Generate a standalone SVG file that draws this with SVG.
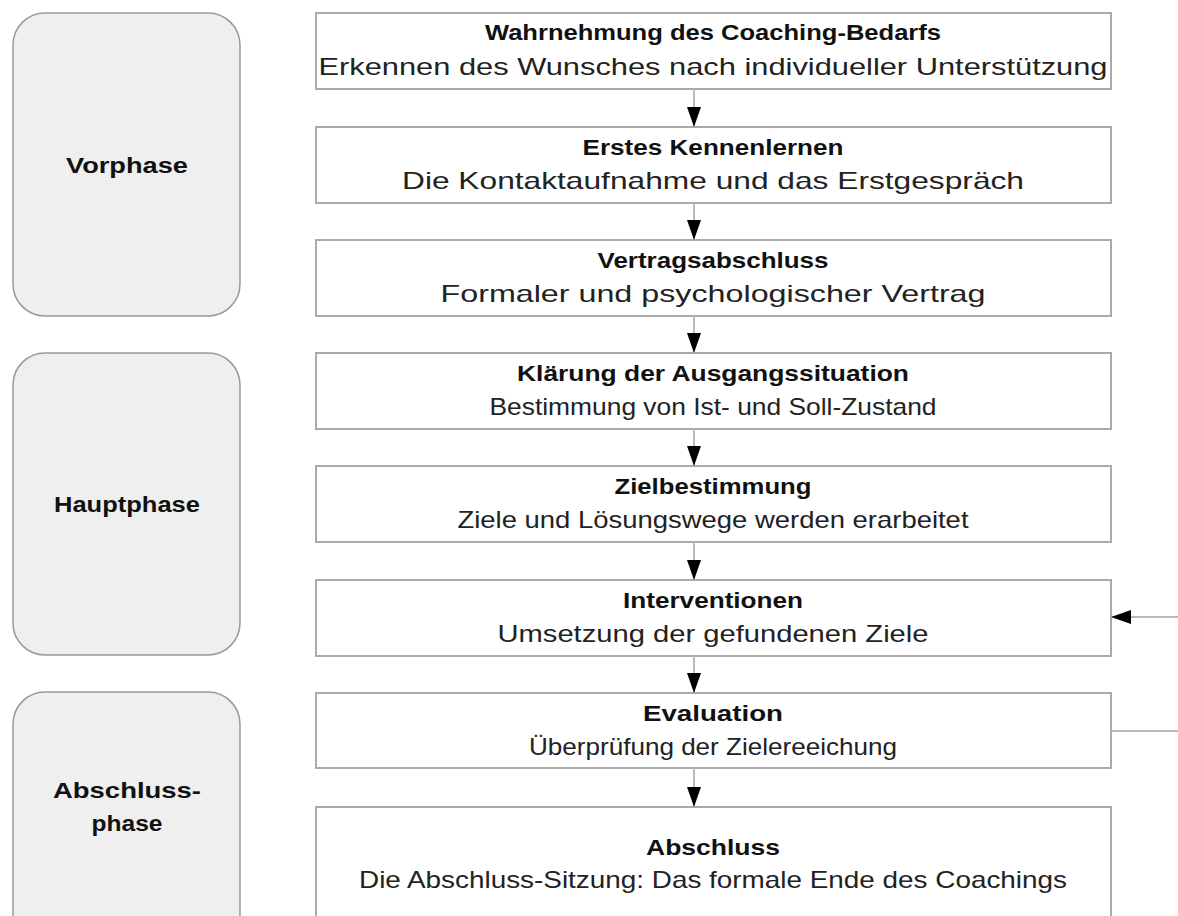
<svg xmlns="http://www.w3.org/2000/svg" width="1178" height="916" viewBox="0 0 1178 916">
  <defs>
    <marker id="arrowhead" viewBox="0 0 20 14" refX="20" refY="7" markerWidth="20" markerHeight="14" markerUnits="userSpaceOnUse" orient="auto">
      <path d="M0,0 L20,7 L0,14 Z" fill="#000"/>
    </marker>
    <style>
      .phase { fill: #efefef; stroke: #999; stroke-width: 1.5; }
      .step { fill: #fff; stroke: #aaa; stroke-width: 2; }
      .phase-label { font-family: "Liberation Sans", Arial, sans-serif; font-weight: bold; font-size: 22px; fill: #111; text-anchor: middle; }
      .title { font-family: "Liberation Sans", Arial, sans-serif; font-weight: bold; font-size: 22px; fill: #111; text-anchor: middle; }
      .sub { font-family: "Liberation Sans", Arial, sans-serif; font-size: 24px; fill: #222; text-anchor: middle; }
      .conn { stroke: #bbb; stroke-width: 2; fill: none; }
    </style>
  </defs>
  <rect width="1178" height="916" fill="#fff"/>

  <!-- phase blocks -->
  <g id="phase-vorphase">
    <rect class="phase" x="13" y="13" width="227" height="303" rx="32"/>
    <text class="phase-label" x="127" y="173" textLength="122" lengthAdjust="spacingAndGlyphs">Vorphase</text>
  </g>
  <g id="phase-hauptphase">
    <rect class="phase" x="13" y="353" width="227" height="302" rx="32"/>
    <text class="phase-label" x="127" y="512" textLength="146" lengthAdjust="spacingAndGlyphs">Hauptphase</text>
  </g>
  <g id="phase-abschluss">
    <rect class="phase" x="13" y="692" width="227" height="300" rx="32"/>
    <text class="phase-label" x="127" y="798" textLength="148" lengthAdjust="spacingAndGlyphs">Abschluss-</text>
    <text class="phase-label" x="127" y="831" textLength="71" lengthAdjust="spacingAndGlyphs">phase</text>
  </g>

  <!-- process steps -->
  <g id="step-wahrnehmung">
    <rect class="step" x="316" y="13" width="795" height="76"/>
    <text class="title" x="713" y="40" textLength="456" lengthAdjust="spacingAndGlyphs">Wahrnehmung des Coaching-Bedarfs</text>
    <text class="sub" x="713" y="75" textLength="789" lengthAdjust="spacingAndGlyphs">Erkennen des Wunsches nach individueller Unterstützung</text>
  </g>
  <g id="step-kennenlernen">
    <rect class="step" x="316" y="127" width="795" height="76"/>
    <text class="title" x="713" y="155" textLength="261" lengthAdjust="spacingAndGlyphs">Erstes Kennenlernen</text>
    <text class="sub" x="713" y="189" textLength="622" lengthAdjust="spacingAndGlyphs">Die Kontaktaufnahme und das Erstgespräch</text>
  </g>
  <g id="step-vertrag">
    <rect class="step" x="316" y="240" width="795" height="76"/>
    <text class="title" x="713" y="268" textLength="231" lengthAdjust="spacingAndGlyphs">Vertragsabschluss</text>
    <text class="sub" x="713" y="302" textLength="545" lengthAdjust="spacingAndGlyphs">Formaler und psychologischer Vertrag</text>
  </g>
  <g id="step-klaerung">
    <rect class="step" x="316" y="353" width="795" height="76"/>
    <text class="title" x="713" y="381" textLength="392" lengthAdjust="spacingAndGlyphs">Klärung der Ausgangssituation</text>
    <text class="sub" x="713" y="415" textLength="447" lengthAdjust="spacingAndGlyphs">Bestimmung von Ist- und Soll-Zustand</text>
  </g>
  <g id="step-ziel">
    <rect class="step" x="316" y="466" width="795" height="76"/>
    <text class="title" x="713" y="494" textLength="197" lengthAdjust="spacingAndGlyphs">Zielbestimmung</text>
    <text class="sub" x="713" y="528" textLength="511" lengthAdjust="spacingAndGlyphs">Ziele und Lösungswege werden erarbeitet</text>
  </g>
  <g id="step-interventionen">
    <rect class="step" x="316" y="580" width="795" height="76"/>
    <text class="title" x="713" y="608" textLength="180" lengthAdjust="spacingAndGlyphs">Interventionen</text>
    <text class="sub" x="713" y="642" textLength="431" lengthAdjust="spacingAndGlyphs">Umsetzung der gefundenen Ziele</text>
  </g>
  <g id="step-evaluation">
    <rect class="step" x="316" y="693" width="795" height="75"/>
    <text class="title" x="713" y="721" textLength="140" lengthAdjust="spacingAndGlyphs">Evaluation</text>
    <text class="sub" x="713" y="755" textLength="368" lengthAdjust="spacingAndGlyphs">Überprüfung der Zielereeichung</text>
  </g>
  <g id="step-abschluss">
    <rect class="step" x="316" y="807" width="795" height="130"/>
    <text class="title" x="713" y="855" textLength="134" lengthAdjust="spacingAndGlyphs">Abschluss</text>
    <text class="sub" x="713" y="888" textLength="708" lengthAdjust="spacingAndGlyphs">Die Abschluss-Sitzung: Das formale Ende des Coachings</text>
  </g>

  <!-- connectors -->
  <g id="connectors">
    <line class="conn" x1="694" y1="89" x2="694" y2="127" marker-end="url(#arrowhead)"/>
    <line class="conn" x1="694" y1="203" x2="694" y2="240" marker-end="url(#arrowhead)"/>
    <line class="conn" x1="694" y1="316" x2="694" y2="353" marker-end="url(#arrowhead)"/>
    <line class="conn" x1="694" y1="429" x2="694" y2="466" marker-end="url(#arrowhead)"/>
    <line class="conn" x1="694" y1="542" x2="694" y2="580" marker-end="url(#arrowhead)"/>
    <line class="conn" x1="694" y1="656" x2="694" y2="693" marker-end="url(#arrowhead)"/>
    <line class="conn" x1="694" y1="768" x2="694" y2="807" marker-end="url(#arrowhead)"/>
    <line class="conn" x1="1178" y1="617" x2="1111" y2="617" marker-end="url(#arrowhead)"/>
    <line class="conn" x1="1111" y1="731" x2="1178" y2="731"/>
  </g>
</svg>
